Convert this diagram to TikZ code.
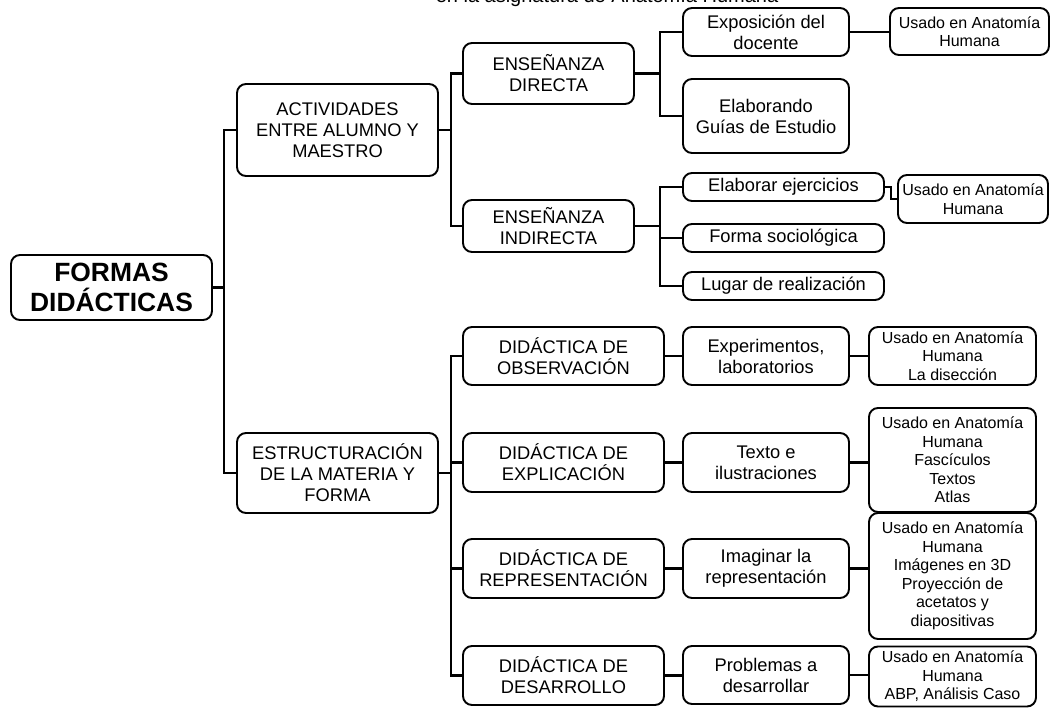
\documentclass[tikz,border=0pt]{standalone}
\usepackage{fontspec}
\setmainfont{Liberation Sans}
\usepackage{tikz}

\begin{document}
\begin{tikzpicture}[x=1pt,y=-1pt,
	caja/.style={draw, line width=1.9pt, rounded corners=9pt, align=center, inner sep=0pt},
	tema/.style={caja, font=\fontsize{18.3}{21}\selectfont},
	uso/.style={caja, font=\fontsize{16}{18.5}\selectfont},
	tam/.style 2 args={minimum width=#1pt, minimum height=#2pt},
	rama/.style={line width=2.2pt}]
	\useasboundingbox (0,0) rectangle (1051,708);

	%title (cut at the top edge)
	\node[font=\fontsize{20}{23}\selectfont, anchor=base] (titulo) at (607,3) {en la asignatura de Anatomía Humana};

	%root
	\node[caja, tam={201}{65}, font=\fontsize{26.4}{30}\bfseries] (raiz) at (111.5,287.5) {FORMAS\\DIDÁCTICAS};

	%first level
	\node[tema, tam={201}{92}] (act) at (337.5,130) {ACTIVIDADES\\ENTRE ALUMNO Y\\MAESTRO};
	\node[tema, tam={201}{80}] (est) at (337.5,473) {ESTRUCTURACIÓN\\DE LA MATERIA Y\\FORMA};

	%ensenanza
	\node[tema, tam={171}{61}] (dir) at (548.5,73.5) {ENSEÑANZA\\DIRECTA};
	\node[tema, tam={171}{52}] (ind) at (548.5,226) {ENSEÑANZA\\INDIRECTA};
		\node[tema, tam={166}{48}] (expo) at (766,32) {Exposición del\\docente};
		\node[tema, tam={166}{74}] (guias) at (766,116) {Elaborando\\Guías de Estudio};
		\node[uso, tam={159}{47}] (usa1) at (969.5,31.5) {Usado en Anatomía\\Humana};
		%
		\node[tema, tam={201}{28}] (ejer) at (783.5,187) {Elaborar ejercicios};
		\node[tema, tam={201}{28}] (soc) at (783.5,238) {Forma sociológica};
		\node[tema, tam={201}{28}] (lug) at (783.5,286) {Lugar de realización};
		\node[uso, tam={150}{48}] (usa2) at (973,199) {Usado en Anatomía\\Humana};

	%didactica
	\node[tema, tam={201}{58}] (obs) at (563.5,356) {DIDÁCTICA DE\\OBSERVACIÓN};
	\node[tema, tam={201}{59}] (expl) at (563.5,462.5) {DIDÁCTICA DE\\EXPLICACIÓN};
	\node[tema, tam={201}{59}] (repr) at (563.5,568.5) {DIDÁCTICA DE\\REPRESENTACIÓN};
	\node[tema, tam={201}{59}] (desa) at (563.5,675.5) {DIDÁCTICA DE\\DESARROLLO};
		\node[tema, tam={166}{58}] (exper) at (766,356) {Experimentos,\\laboratorios};
		\node[tema, tam={166}{59}] (texto) at (766,462.5) {Texto e\\ilustraciones};
		\node[tema, tam={166}{59}] (imag) at (766,568.5) {Imaginar la\\representación};
		\node[tema, tam={166}{58}] (prob) at (766,675) {Problemas a\\desarrollar};
		%
		\node[uso, tam={167}{58}] (usa3) at (952.5,356) {Usado en Anatomía\\Humana\\La disección};
		\node[uso, tam={167}{104}] (usa4) at (952.5,460) {Usado en Anatomía\\Humana\\Fascículos\\Textos\\Atlas};
		\node[uso, tam={167}{126}] (usa5) at (952.5,576) {Usado en Anatomía\\Humana\\Imágenes en 3D\\Proyección de\\acetatos y\\diapositivas};
		\node[uso, tam={167}{60}] (usa6) at (952.5,676.5) {Usado en Anatomía\\Humana\\ABP, Análisis Caso};

	%branches
	\draw[rama] (raiz.east) -- ++(11,0) |- (act.west);
	\draw[rama] (raiz.east) -- ++(11,0) |- (est.west);
	\draw[rama] (act.east) -- ++(12,0) |- (dir.west);
	\draw[rama] (act.east) -- ++(12,0) |- (ind.west);
	\draw[rama] (dir.east) -- ++(25,0) |- (expo.west);
	\draw[rama] (dir.east) -- ++(25,0) |- (guias.west);
	\draw[rama] (expo.east) -- (expo.east -| usa1.west);
	\foreach \n in {ejer,soc,lug}
		\draw[rama] (ind.east) -- ++(25,0) |- (\n.west);
	\draw[rama] (ejer.east) -- ++(6,0) |- (usa2.west);		%small step
	\foreach \n in {obs,expl,repr,desa}
		\draw[rama] (est.east) -- ++(12,0) |- (\n.west);
	\foreach \a/\b/\c in {obs/exper/usa3, expl/texto/usa4, repr/imag/usa5, desa/prob/usa6}{
		\draw[rama] (\a.east) -- (\a.east -| \b.west);
		\draw[rama] (\b.east) -- (\b.east -| \c.west);
	}
\end{tikzpicture}
\end{document}
